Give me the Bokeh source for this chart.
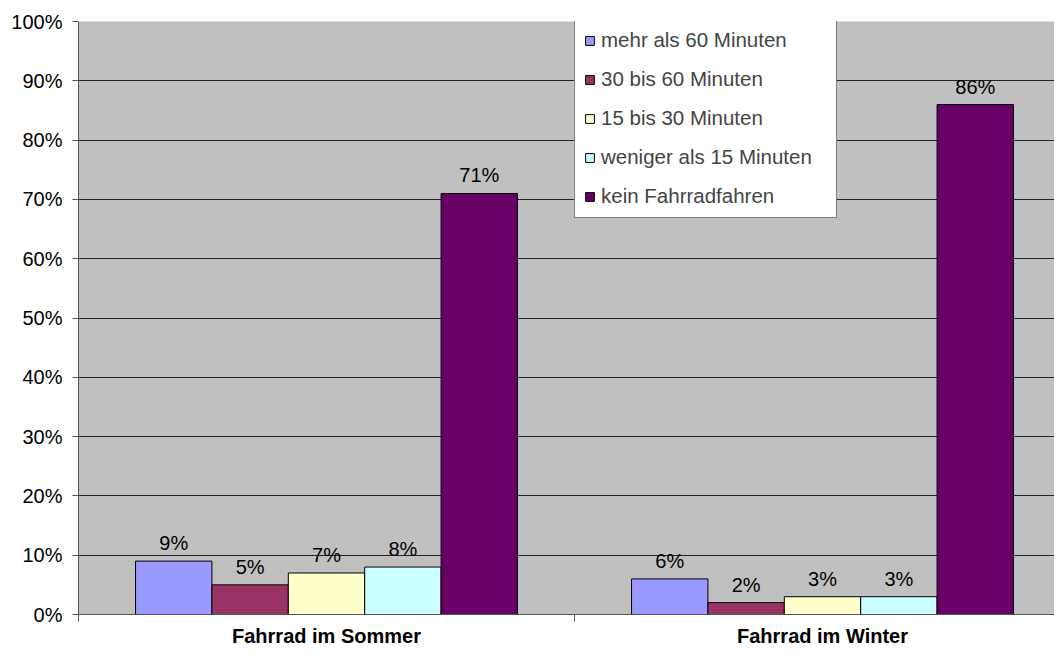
from bokeh.plotting import figure
from bokeh.models import ColumnDataSource, Range1d, FixedTicker, NumeralTickFormatter, Legend, LegendItem
from bokeh.core.properties import value
from bokeh.embed import file_html
from bokeh.resources import INLINE

categories = ["Fahrrad im Sommer", "Fahrrad im Winter"]
series = ["mehr als 60 Minuten", "30 bis 60 Minuten", "15 bis 30 Minuten",
          "weniger als 15 Minuten", "kein Fahrradfahren"]
sommer = [0.09, 0.05, 0.07, 0.08, 0.71]
winter = [0.06, 0.02, 0.03, 0.03, 0.86]
colors = ["#9999FF", "#993366", "#FFFFCC", "#CCFFFF", "#660066"]
y_ticks = [0.0, 0.1, 0.2, 0.3, 0.4, 0.5, 0.6, 0.7, 0.8, 0.9, 1.0]

FONT = "Liberation Sans"
W, H = 1054, 649
LEFT, TOP, BOTTOM = 78, 21, 34
cat_px = 496.0
frame_w = W - LEFT
frame_h = H - TOP - BOTTOM
bar_w = 0.154

p = figure(width=W, height=H, output_backend="svg", toolbar_location=None,
           x_range=Range1d(0, frame_w / cat_px), y_range=Range1d(0, 1),
           min_border_left=LEFT, min_border_right=0, min_border_top=TOP,
           min_border_bottom=BOTTOM)
p.background_fill_color = "#C0C0C0"
p.border_fill_color = "white"
p.outline_line_color = None

values = [sommer, winter]
items = []
for j, name in enumerate(series):
    xs = [i + 0.5 + (j - 2) * bar_w for i in range(len(categories))]
    ys = [values[i][j] for i in range(len(categories))]
    src = ColumnDataSource(dict(x=xs, top=ys, lab=[f"{round(v * 100)}%" for v in ys]))
    r = p.vbar(x="x", top="top", width=bar_w, bottom=0, source=src,
               fill_color=colors[j], line_color="#000000", line_width=1)
    p.text(x="x", y="top", text="lab", source=src, text_align="center",
           text_baseline="bottom", y_offset=-7, text_font=value(FONT),
           text_font_size="20px", text_color="#000000")
    items.append(LegendItem(label=name, renderers=[r]))

LEG_H = 198
legend = Legend(items=items, location=(496, frame_h - LEG_H), padding=9, spacing=15,
                label_height=20, glyph_height=11, glyph_width=11, label_standoff=6,
                label_width=226, label_text_font=FONT, label_text_font_size="20.5px",
                border_line_color="#000000", border_line_width=1,
                background_fill_color="white", background_fill_alpha=1.0, margin=0)
p.add_layout(legend, "center")

# grid
p.xgrid.grid_line_color = None
p.ygrid.ticker = FixedTicker(ticks=y_ticks)
p.ygrid.grid_line_color = "#222222"
p.ygrid.grid_line_width = 1

# y axis
p.yaxis.ticker = FixedTicker(ticks=y_ticks)
p.yaxis.formatter = NumeralTickFormatter(format="0%")
p.yaxis.major_label_text_font = FONT
p.yaxis.major_label_text_font_size = "20px"
p.yaxis.major_label_text_color = "#000000"
p.yaxis.axis_line_color = "#555555"
p.yaxis.major_tick_line_color = "#555555"
p.yaxis.major_tick_out = 6
p.yaxis.major_tick_in = 0
p.yaxis.minor_tick_line_color = None
p.yaxis.major_label_standoff = 10

# x axis
p.xaxis.ticker = FixedTicker(ticks=[i + 0.5 for i in range(len(categories))],
                             minor_ticks=[float(i) for i in range(len(categories) + 1)])
p.xaxis.major_label_overrides = {i + 0.5: c for i, c in enumerate(categories)}
p.xaxis.major_label_text_font = FONT
p.xaxis.major_label_text_font_size = "20px"
p.xaxis.major_label_text_font_style = "bold"
p.xaxis.major_label_text_color = "#000000"
p.xaxis.axis_line_color = "#555555"
p.xaxis.major_tick_line_color = None
p.xaxis.major_tick_out = 0
p.xaxis.major_tick_in = 0
p.xaxis.minor_tick_line_color = "#555555"
p.xaxis.minor_tick_out = 7
p.xaxis.minor_tick_in = 0
p.xaxis.major_label_standoff = 3

open("out.html", "w").write(file_html(p, INLINE))
